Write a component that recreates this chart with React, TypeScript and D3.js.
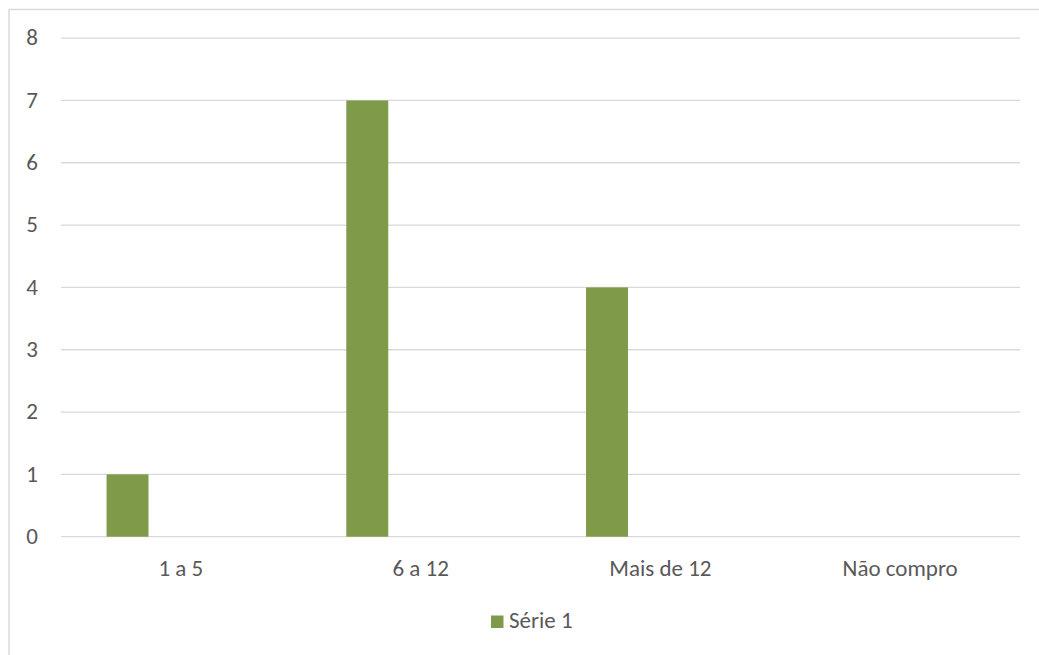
import React from "react";
import * as d3 from "d3";

const categories = ["1 a 5", "6 a 12", "Mais de 12", "Não compro"];
const serie1 = [1, 7, 4, 0];
const yTicks = [0, 1, 2, 3, 4, 5, 6, 7, 8];
const seriesName = "Série 1";

export default function App() {
  const W = 1039, H = 655;
  const left = 61, right = 1020, top = 38.1, bottom = 536.7;
  const x = d3.scaleBand<string>().domain(categories).range([left, right]).paddingInner(0).paddingOuter(0);
  const y = d3.scaleLinear().domain([0, 8]).range([bottom, top]);
  const bw = x.bandwidth();
  const font = "Carlito, Calibri, 'Open Sans', sans-serif";
  const fs = 23;
  const textColor = "#595959";
  const barColor = "#7f9b4a";
  return (
    <svg width={W} height={H} style={{ position: "absolute", left: 0, top: 0, background: "#fff" }}>
      <rect x={0} y={0} width={W} height={H} fill="#fff" />
      <path d={`M9,${H} V9.5 H${W}`} fill="none" stroke="#d9d9d9" strokeWidth={1.5} />
      {yTicks.map((t) => (
        <g key={t}>
          <line x1={left} x2={right} y1={y(t)} y2={y(t)} stroke="#d9d9d9" strokeWidth={1.3} />
          <text x={38} y={y(t)} dy="0.32em" textAnchor="end" fontFamily={font} fontSize={fs} fill={textColor}>
            {t}
          </text>
        </g>
      ))}
      {categories.map((c, i) => (
        <g key={c}>
          {serie1[i] > 0 && (
            <rect
              x={(x(c) as number) + bw * 0.19}
              y={y(serie1[i])}
              width={bw * 0.175}
              height={y(0) - y(serie1[i])}
              fill={barColor}
            />
          )}
          <text x={(x(c) as number) + bw / 2} y={576} textAnchor="middle" fontFamily={font} fontSize={fs} fill={textColor}>
            {c}
          </text>
        </g>
      ))}
      <rect x={491} y={615.5} width={12.5} height={12.5} fill={barColor} />
      <text x={509} y={628} fontFamily={font} fontSize={fs} fill={textColor}>
        {seriesName}
      </text>
    </svg>
  );
}
